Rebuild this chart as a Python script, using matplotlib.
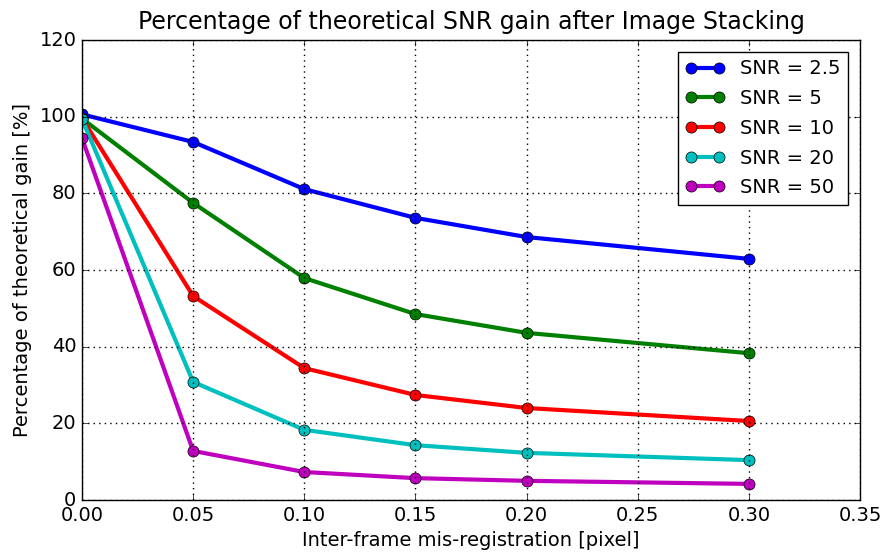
import matplotlib
matplotlib.use("Agg")
import matplotlib.pyplot as plt

# Mis-registration offsets and measured gain for each SNR level
shifts = [0.0, 0.05, 0.10, 0.15, 0.20, 0.30]
snr_levels = ["2.5", "5", "10", "20", "50"]
gain_snr_2_5 = [100.6, 93.4, 81.1, 73.6, 68.6, 62.9]
gain_snr_5 = [99.5, 77.5, 57.9, 48.5, 43.6, 38.3]
gain_snr_10 = [99.6, 53.2, 34.4, 27.4, 24.0, 20.6]
gain_snr_20 = [99.4, 30.8, 18.3, 14.3, 12.3, 10.4]
gain_snr_50 = [94.4, 12.8, 7.3, 5.7, 5.0, 4.2]

plt.style.use("classic")
plt.rcParams["font.family"] = "DejaVu Sans"

fig = plt.figure(figsize=(8.85, 5.54), dpi=100, facecolor="white")
ax = fig.add_axes([82 / 885, 54 / 554, 778 / 885, 460 / 554])

series = [gain_snr_2_5, gain_snr_5, gain_snr_10, gain_snr_20, gain_snr_50]
colors = ["b", "g", "r", "c", "m"]
for label, values, color in zip(snr_levels, series, colors):
    ax.plot(shifts, values, "-o", color=color, linewidth=3, markersize=8,
            markeredgecolor="k", label=f"SNR = {label}")

ax.set_xlim(0, 0.35)
ax.set_ylim(0, 120)
ax.grid(True, color="k", linestyle=":", linewidth=1)
ax.tick_params(labelsize=14)
ax.set_xlabel("Inter-frame mis-registration [pixel]", fontsize=14)
ax.set_ylabel("Percentage of theoretical gain [%]", fontsize=14)
ax.set_title("Percentage of theoretical SNR gain after Image Stacking", fontsize=17, pad=8)
ax.legend(loc="upper right", fontsize=14, numpoints=2, labelspacing=0.55,
          borderaxespad=0.6)

fig.savefig("out.png", dpi=100, facecolor="white")
